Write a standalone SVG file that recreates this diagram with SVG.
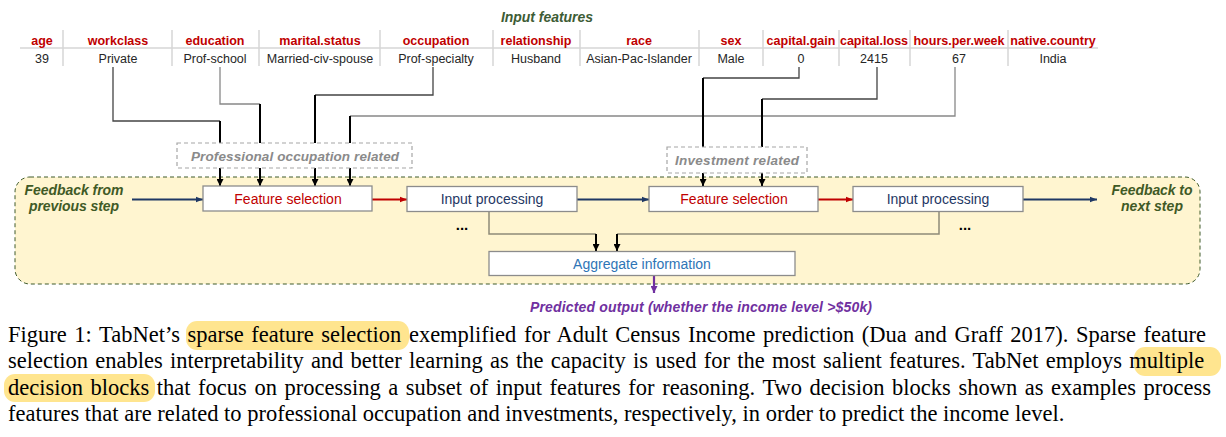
<svg xmlns="http://www.w3.org/2000/svg" width="1226" height="437" viewBox="0 0 1226 437">
<style>
.th{font-family:"Liberation Sans",Arial,sans-serif;font-size:12.5px;font-weight:bold;fill:#c00000;text-anchor:middle}
.tv{font-family:"Liberation Sans",Arial,sans-serif;font-size:12.5px;fill:#262626;text-anchor:middle}
.sep{stroke:#d6d6d6;stroke-width:1.5}
.lbl{font-family:"Liberation Sans",Arial,sans-serif;font-style:italic;font-weight:bold;text-anchor:middle}
.box{fill:#fff;stroke:#8c8c8c;stroke-width:1.3}
.bt{font-family:"Liberation Sans",Arial,sans-serif;font-size:14px;text-anchor:middle}
.dash{fill:#fff;stroke:#a6a6a6;stroke-width:1.2;stroke-dasharray:4 3}
.thin{fill:none;stroke:#444;stroke-width:1.3}
.thick{fill:none;stroke:#000;stroke-width:2}
.cap{font-family:"Liberation Serif","Times New Roman",serif;font-size:22.5px;fill:#000}
.hl{fill:#ffe58f}
</style>
<defs>
<marker id="ak" viewBox="0 0 10 10" refX="10" refY="5" markerWidth="7" markerHeight="7" markerUnits="userSpaceOnUse" orient="auto"><path d="M0,0 L10,5 L0,10 z" fill="#000"/></marker>
<marker id="an" viewBox="0 0 10 10" refX="10" refY="5" markerWidth="7" markerHeight="7" markerUnits="userSpaceOnUse" orient="auto"><path d="M0,1 L10,5 L0,9 z" fill="#1f3864"/></marker>
<marker id="ar" viewBox="0 0 10 10" refX="10" refY="5" markerWidth="7" markerHeight="7" markerUnits="userSpaceOnUse" orient="auto"><path d="M0,1 L10,5 L0,9 z" fill="#c00000"/></marker>
<marker id="ap" viewBox="0 0 10 10" refX="10" refY="5" markerWidth="7" markerHeight="7" markerUnits="userSpaceOnUse" orient="auto"><path d="M0,0 L10,5 L0,10 z" fill="#7030a0"/></marker>
</defs>

<!-- decision step background -->
<g id="step-region">
<rect x="15" y="177" width="1185" height="107" rx="15" fill="#fff5d0" stroke="#3e5a2a" stroke-width="1" stroke-dasharray="4 3"/>
</g>

<!-- input feature table -->
<g id="input-features">
<text class="lbl" x="547" y="22" font-size="14" fill="#3d5c35" textLength="92">Input features</text>
<line class="sep" x1="20" y1="48" x2="1098" y2="48"/>
<g>
<line class="sep" x1="63" y1="30" x2="63" y2="66"/>
<line class="sep" x1="172" y1="30" x2="172" y2="66"/>
<line class="sep" x1="259" y1="30" x2="259" y2="66"/>
<line class="sep" x1="380" y1="30" x2="380" y2="66"/>
<line class="sep" x1="493" y1="30" x2="493" y2="66"/>
<line class="sep" x1="580" y1="30" x2="580" y2="66"/>
<line class="sep" x1="699" y1="30" x2="699" y2="66"/>
<line class="sep" x1="763" y1="30" x2="763" y2="66"/>
<line class="sep" x1="839" y1="30" x2="839" y2="66"/>
<line class="sep" x1="910" y1="30" x2="910" y2="66"/>
<line class="sep" x1="1008" y1="30" x2="1008" y2="66"/>
</g>
<text class="th" x="42" y="45">age</text>
<text class="th" x="118" y="45">workclass</text>
<text class="th" x="215" y="45">education</text>
<text class="th" x="320" y="45">marital.status</text>
<text class="th" x="436" y="45">occupation</text>
<text class="th" x="536" y="45">relationship</text>
<text class="th" x="639" y="45">race</text>
<text class="th" x="731" y="45">sex</text>
<text class="th" x="801" y="45">capital.gain</text>
<text class="th" x="874" y="45">capital.loss</text>
<text class="th" x="959" y="45">hours.per.week</text>
<text class="th" x="1053" y="45">native.country</text>
<text class="tv" x="42" y="63">39</text>
<text class="tv" x="118" y="63">Private</text>
<text class="tv" x="215" y="63">Prof-school</text>
<text class="tv" x="320" y="63">Married-civ-spouse</text>
<text class="tv" x="436" y="63">Prof-specialty</text>
<text class="tv" x="536" y="63">Husband</text>
<text class="tv" x="639" y="63">Asian-Pac-Islander</text>
<text class="tv" x="731" y="63">Male</text>
<text class="tv" x="801" y="63">0</text>
<text class="tv" x="874" y="63">2415</text>
<text class="tv" x="959" y="63">67</text>
<text class="tv" x="1053" y="63">India</text>
</g>

<!-- connectors -->
<g id="connectors">
<path class="thin" d="M113,67 V121 H220"/>
<path class="thick" d="M220,121 V186" marker-end="url(#ak)"/>
<path class="thin" d="M220,67 V104 H260" style="stroke:#888"/>
<path class="thick" d="M260,104 V186" marker-end="url(#ak)"/>
<path class="thin" d="M433,67 V95 H315"/>
<path class="thick" d="M315,95 V186" marker-end="url(#ak)"/>
<path class="thin" d="M955,67 V116 H350" style="stroke:#888"/>
<path class="thick" d="M350,116 V186" marker-end="url(#ak)"/>
<path class="thin" d="M799,67 V78 H703"/>
<path class="thick" d="M703,78 V186" marker-end="url(#ak)"/>
<path class="thin" d="M877,67 V99 H762"/>
<path class="thick" d="M762,99 V186" marker-end="url(#ak)"/>
<path d="M132,199.5 H203" fill="none" stroke="#1f3864" stroke-width="2.2" marker-end="url(#an)"/>
<path d="M372,199.5 H407" fill="none" stroke="#c00000" stroke-width="2.2" marker-end="url(#ar)"/>
<path d="M577,199.5 H649" fill="none" stroke="#1f3864" stroke-width="2.2" marker-end="url(#an)"/>
<path d="M818,199.5 H853" fill="none" stroke="#c00000" stroke-width="2.2" marker-end="url(#ar)"/>
<path d="M1023,199.5 H1097" fill="none" stroke="#1f3864" stroke-width="2.2" marker-end="url(#an)"/>
<path d="M489,211 V234 H596" fill="none" stroke="#8f8a78" stroke-width="1.5"/>
<path d="M596,234 V251" class="thick" marker-end="url(#ak)"/>
<path d="M939,211 V234 H617" fill="none" stroke="#8f8a78" stroke-width="1.5"/>
<path d="M617,234 V251" class="thick" marker-end="url(#ak)"/>
<path d="M654,275 V293" fill="none" stroke="#7030a0" stroke-width="2.2" marker-end="url(#ap)"/>
</g>

<g id="prof-occupation-group">
<rect class="dash" x="177" y="143" width="235" height="25"/>
<text class="lbl" x="295" y="161" font-size="13.5" fill="#8a8a8a" textLength="208">Professional occupation related</text>
</g>
<g id="investment-group">
<rect class="dash" x="667" y="147" width="140" height="26"/>
<text class="lbl" x="737" y="165" font-size="13.5" fill="#8a8a8a" textLength="124">Investment related</text>
</g>

<g id="feedback-in">
<text class="lbl" x="74" y="195" font-size="14" fill="#3f5a26" textLength="99">Feedback from</text>
<text class="lbl" x="74" y="211" font-size="14" fill="#3f5a26" textLength="90">previous step</text>
</g>
<g id="feedback-out">
<text class="lbl" x="1152" y="195" font-size="14" fill="#3f5a26" textLength="81">Feedback to</text>
<text class="lbl" x="1152" y="211" font-size="14" fill="#3f5a26" textLength="62">next step</text>
</g>

<g id="feature-selection-1">
<rect class="box" x="203" y="186" width="169" height="25"/>
<text class="bt" x="288" y="204" fill="#c00000">Feature selection</text>
</g>
<g id="input-processing-1">
<rect class="box" x="407" y="186.5" width="170" height="25"/>
<text class="bt" x="492" y="204" fill="#1f3864">Input processing</text>
<text x="462" y="230" font-family="Liberation Sans,Arial,sans-serif" font-size="15" font-weight="bold" fill="#000" text-anchor="middle">...</text>
</g>
<g id="feature-selection-2">
<rect class="box" x="649" y="186.5" width="169" height="25"/>
<text class="bt" x="734" y="204" fill="#c00000">Feature selection</text>
</g>
<g id="input-processing-2">
<rect class="box" x="853" y="186.5" width="170" height="25"/>
<text class="bt" x="938" y="204" fill="#1f3864">Input processing</text>
<text x="965" y="230" font-family="Liberation Sans,Arial,sans-serif" font-size="15" font-weight="bold" fill="#000" text-anchor="middle">...</text>
</g>
<g id="aggregate">
<rect class="box" x="489" y="251.5" width="306" height="24"/>
<text class="bt" x="642" y="268.5" fill="#2e75b6">Aggregate information</text>
</g>
<g id="predicted-output">
<text class="lbl" x="701" y="312" font-size="14" fill="#7030a0" textLength="342">Predicted output (whether the income level &gt;$50k)</text>
</g>

<!-- caption -->
<g id="caption">
<rect class="hl" x="186" y="321" width="223" height="29" rx="11"/>
<rect class="hl" x="1134" y="347" width="87" height="29" rx="11"/>
<rect class="hl" x="4" y="374" width="151" height="28" rx="11"/>
<text class="cap" x="8" y="342" word-spacing="1.96">Figure 1: TabNet’s sparse feature selection exemplified for Adult Census Income prediction (Dua and Graff 2017). Sparse feature</text>
<text class="cap" x="8" y="368.4" word-spacing="1.62">selection enables interpretability and better learning as the capacity is used for the most salient features. TabNet employs multiple</text>
<text class="cap" x="8" y="394.8" word-spacing="1.92">decision blocks that focus on processing a subset of input features for reasoning. Two decision blocks shown as examples process</text>
<text class="cap" x="8" y="421.2">features that are related to professional occupation and investments, respectively, in order to predict the income level.</text>
</g>
</svg>
